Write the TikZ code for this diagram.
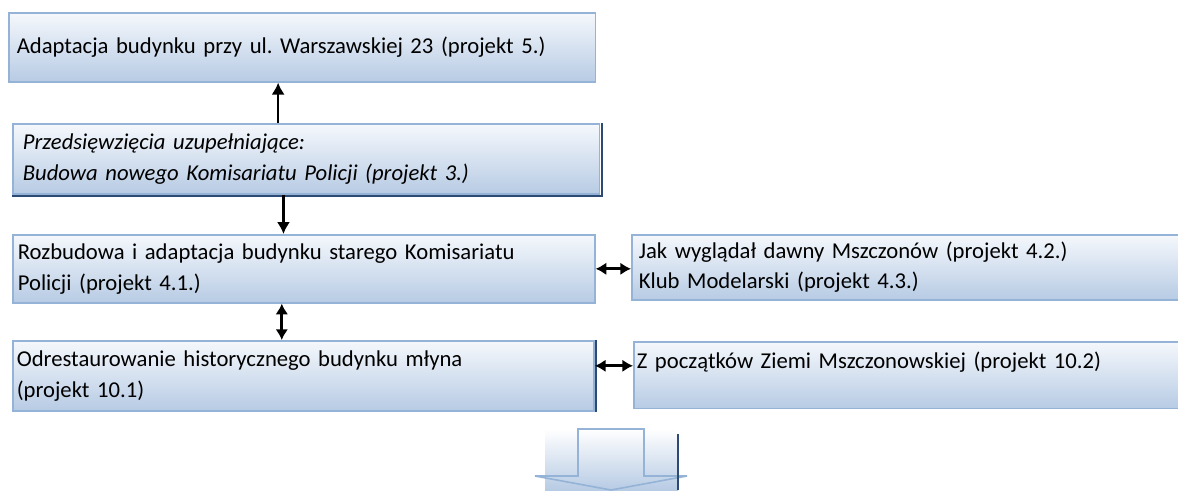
\documentclass[tikz,border=0pt]{standalone}
\usepackage{fontspec}
\setmainfont{Carlito}
\usetikzlibrary{arrows.meta}
\definecolor{BoxEdge}{HTML}{95B3D7}
\definecolor{BoxTop}{HTML}{F5F8FC}
\definecolor{BoxBottom}{HTML}{B7CBE4}
\definecolor{ShadowBlue}{HTML}{2C4A74}
\frenchspacing

\begin{document}
\begin{tikzpicture}[x=0.75pt, y=-0.75pt,
  box/.style={draw=BoxEdge, line width=1.2pt, top color=BoxTop, bottom color=BoxBottom,
    anchor=north west, align=left, inner ysep=0pt, font=\fontsize{17}{23}\selectfont},
  link/.style={line width=2pt, -{Latex[length=9pt,width=10pt]}},
  both/.style={line width=2pt, {Latex[length=8pt,width=9.5pt]}-{Latex[length=8pt,width=9.5pt]}}]
\useasboundingbox (0,0) rectangle (1178,490);

% Main column
\node[box, inner xsep=6pt, text width=428pt, minimum height=51.75pt] (adapt) at (8,12)
  {Adaptacja budynku przy ul. Warszawskiej 23 (projekt 5.)};
\node[box, inner xsep=7.5pt, text width=425pt, minimum height=52.5pt] (extra) at (12,123)
  {\itshape Przedsięwzięcia uzupełniające:\\\itshape Budowa nowego Komisariatu Policji (projekt 3.)};
\node[box, inner xsep=3.75pt, text width=429pt, minimum height=51pt] (police) at (12,234)
  {Rozbudowa i adaptacja budynku starego Komisariatu\\Policji (projekt 4.1.)};
\node[box, inner xsep=3pt, text width=430pt, minimum height=52.5pt] (mill) at (12,340)
  {Odrestaurowanie historycznego budynku młyna\\(projekt 10.1)};

% Side column
\node[box, inner xsep=5.25pt, text width=402pt, minimum height=48.75pt] (town) at (631,234)
  {Jak wyglądał dawny Mszczonów (projekt 4.2.)\\Klub Modelarski (projekt 4.3.)};
\node[box, inner xsep=2.25pt, text width=407pt, minimum height=50pt] (land) at (633,341)
  {Z początków Ziemi Mszczonowskiej (projekt 10.2)\\\mbox{}};

% Shadows
\draw[ShadowBlue, line width=1.5pt] ([xshift=1pt]extra.north east) -- ([xshift=1pt,yshift=-1pt]extra.south east)
  -- ([yshift=-1pt]extra.south west);
\draw[ShadowBlue, line width=1.5pt] ([xshift=1pt]mill.north east) -- ([xshift=1pt]mill.south east);

% Arrows
\draw[link] ([xshift=-21pt]extra.north) -- ([xshift=-21pt]extra.north |- adapt.south);
\draw[link] ([xshift=-17pt]extra.south) -- ([xshift=-17pt]extra.south |- police.north);
\draw[both] ([xshift=-16.5pt]police.south) -- ([xshift=-16.5pt]police.south |- mill.north);
\draw[both] (police.east) -- (police.east -| town.west);
\draw[both] ([yshift=7.5pt]mill.east) -- ([yshift=7.5pt]mill.east -| land.west);

% Block arrow at the bottom
\shade[top color=white, bottom color=BoxBottom] (545,429) rectangle (678,490);
\draw[BoxEdge, line width=1.2pt] (578,429) -- (644,429) -- (644,476) -- (687,476) -- (611,490)
  -- (535,476) -- (578,476) -- cycle;
\draw[ShadowBlue, line width=1.2pt] (678,434) -- (678,490);
\end{tikzpicture}
\end{document}
